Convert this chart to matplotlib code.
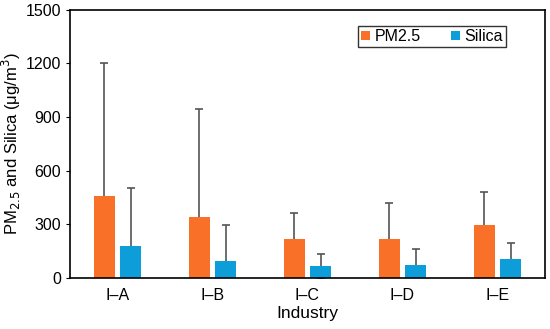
import matplotlib
matplotlib.use("Agg")
import matplotlib.pyplot as plt
import numpy as np

plt.rcParams['font.family'] = ['Liberation Sans', 'DejaVu Sans']

categories = ["I\u2013A", "I\u2013B", "I\u2013C", "I\u2013D", "I\u2013E"]
pm25 = [460, 343, 218, 216, 295]
pm25_err = [745, 603, 146, 202, 185]
silica = [181, 97, 65, 73, 108]
silica_err = [324, 201, 71, 88, 88]

fig = plt.figure(figsize=(5.5, 3.29), dpi=100)
ax = fig.add_axes([0.127, 0.155, 0.864, 0.815])

x = np.arange(len(categories))
w = 0.22
off = 0.14
ekw = dict(fmt='none', ecolor='#555555', elinewidth=1.2, capsize=3,
           capthick=1.2, zorder=1)
ax.errorbar(x - off, pm25, yerr=pm25_err, **ekw)
ax.errorbar(x + off, silica, yerr=silica_err, **ekw)
ax.bar(x - off, pm25, w, color='#F97028', label='PM2.5', zorder=2)
ax.bar(x + off, silica, w, color='#0D9DD9', label='Silica', zorder=2)

ax.set_xlim(-0.5, len(categories) - 0.5)
ax.set_ylim(0, 1500)
ax.set_yticks(range(0, 1501, 300))
ax.set_xticks(x)
ax.set_xticklabels(categories)
ax.tick_params(axis='x', length=0, labelsize=11.5, pad=7)
ax.tick_params(axis='y', direction='out', length=3, labelsize=11.5)
for s in ax.spines.values():
    s.set_linewidth(1.2)
    s.set_zorder(3)
ax.set_xlabel("Industry", fontsize=12.5, labelpad=2)
ax.set_ylabel("PM$_{2.5}$ and Silica (\u03bcg/m$^{3}$)", fontsize=12)
ax.yaxis.set_label_coords(-0.098, 0.5)

leg = ax.legend(loc='upper right', bbox_to_anchor=(0.935, 0.97), ncol=2,
                frameon=True, fancybox=False, edgecolor='black', fontsize=11.5,
                handlelength=0.55, handleheight=0.55, handletextpad=0.3,
                columnspacing=1.9, borderpad=0.2)
leg.get_frame().set_linewidth(1.0)

fig.savefig("out.png", dpi=100)
